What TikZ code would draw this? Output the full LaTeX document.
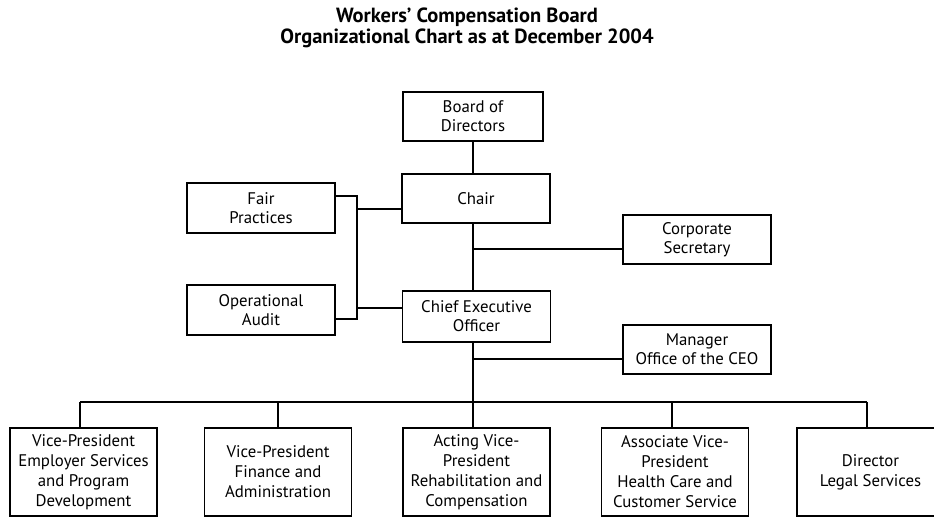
\documentclass[tikz,border=0pt]{standalone}
\usepackage{fontspec}
\setmainfont{PT Sans}
\begin{document}
\begin{tikzpicture}[x=1pt,y=-1pt,
  box/.style={draw,line width=1.6pt,minimum width=148pt,minimum height=49pt,
    align=center,inner sep=0pt,font=\fontsize{16.8}{19}\selectfont},
  tallbox/.style={box,minimum width=147pt,minimum height=88pt,
    font=\fontsize{16.8}{20}\selectfont},
  link/.style={line width=1.6pt}]
\useasboundingbox (0,0) rectangle (934,517);
\clip (0,0) rectangle (934,517);

% heading
\node[align=center,font=\bfseries\fontsize{20.5}{21}\selectfont] (title) at (467,28)
  {Workers’ Compensation Board\\Organizational Chart as at December 2004};

% governance and executive
\node[box,minimum width=140pt] (board) at (473,116.5) {Board of\\Directors};
\node[box] (chair) at (476,198.5) {Chair};
\node[box,minimum height=51pt] (ceo) at (476.5,316.5) {Chief Executive\\Officer};
\node[box] (corp) at (697,239.5) {Corporate\\Secretary};
\node[box] (mgr) at (697,349.5) {Manager\\Office of the CEO};
\node[box,minimum height=50pt] (fair) at (261,208) {Fair\\Practices};
\node[box,minimum height=50pt] (audit) at (261,310) {Operational\\Audit};

% senior management row
\node[tallbox] (b1) at (83.5,472) {Vice-President\\Employer Services\\and Program\\Development};
\node[tallbox] (b2) at (278,472) {Vice-President\\Finance and\\Administration};
\node[tallbox] (b3) at (476.5,472) {Acting Vice-\\President\\Rehabilitation and\\Compensation};
\node[tallbox] (b4) at (675,472) {Associate Vice-\\President\\Health Care and\\Customer Service};
\node[tallbox] (b5) at (870.5,472) {Director\\Legal Services};

% main reporting line
\coordinate (spine) at (473,0);
\draw[link] (board.south) -- (board.south |- chair.north);
\draw[link] (spine |- chair.south) -- (spine |- ceo.north);
\coordinate (j1) at (473,249);
\draw[link] (j1) -- (j1 -| corp.west);
\coordinate (j2) at (473,359);
\draw[link] (spine |- ceo.south) -- (473,402);
\draw[link] (j2) -- (j2 -| mgr.west);

% bracket joining fair practices and audit
\coordinate (ba) at (357,196);
\coordinate (bb) at (357,319);
\coordinate (bc) at (357,209);
\coordinate (bd) at (357,308);
\draw[link] (ba -| fair.east) -- (ba) -- (bb) -- (bb -| audit.east);
\draw[link] (bc) -- (bc -| chair.west);
\draw[link] (bd) -- (bd -| ceo.west);

% bus to the lower row
\coordinate (d1) at (80,402);
\coordinate (d2) at (278,402);
\coordinate (d3) at (473,402);
\coordinate (d4) at (672,402);
\coordinate (d5) at (867,402);
\draw[link] (d1) -- (d5);
\foreach \d/\b in {d1/b1,d2/b2,d3/b3,d4/b4,d5/b5}
  \draw[link] (\d) -- (\d |- \b.north);
\end{tikzpicture}
\end{document}
